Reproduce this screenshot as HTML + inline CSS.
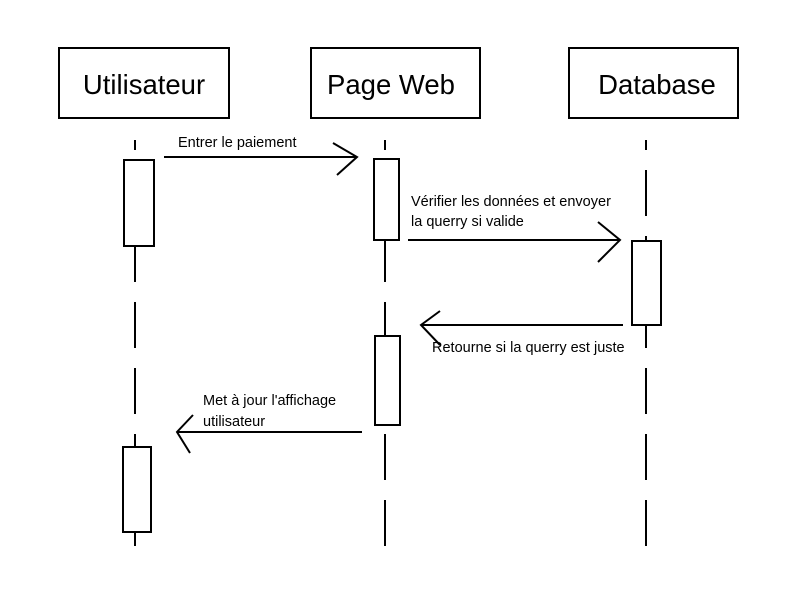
<!DOCTYPE html>
<html><head><meta charset="utf-8"><style>
html,body{margin:0;padding:0;background:#fff;}
svg{display:block;}
text{font-family:"Liberation Sans",sans-serif;fill:#000;}
</style></head><body>
<svg width="800" height="600" viewBox="0 0 800 600" xmlns="http://www.w3.org/2000/svg">
<rect width="800" height="600" fill="#fff"/>
<g stroke="#000" stroke-width="2" fill="#fff">
<rect x="59" y="48" width="170" height="70"/>
<rect x="311" y="48" width="169" height="70"/>
<rect x="569" y="48" width="169" height="70"/>
</g>
<g font-size="27.5" text-anchor="middle">
<text x="144" y="94">Utilisateur</text>
<text x="391" y="94">Page Web</text>
<text x="657" y="94">Database</text>
</g>
<g stroke="#000" stroke-width="2" stroke-dasharray="46 20" stroke-dashoffset="36">
<line x1="135" y1="140" x2="135" y2="552"/>
<line x1="385" y1="140" x2="385" y2="552"/>
<line x1="646" y1="140" x2="646" y2="552"/>
</g>
<g stroke="#000" stroke-width="2" fill="#fff">
<rect x="124" y="160" width="30" height="86"/>
<rect x="374" y="159" width="25" height="81"/>
<rect x="632" y="241" width="29" height="84"/>
<rect x="375" y="336" width="25" height="89"/>
<rect x="123" y="447" width="28" height="85"/>
</g>
<g stroke="#000" stroke-width="2" fill="none">
<line x1="164" y1="157" x2="357" y2="157"/>
<polyline points="333,143 357,157 337,175"/>
<line x1="408" y1="240" x2="620" y2="240"/>
<polyline points="598,222 620,240 598,262"/>
<line x1="623" y1="325" x2="421" y2="325"/>
<polyline points="440,311 421,325 440,345"/>
<line x1="362" y1="432" x2="177" y2="432"/>
<polyline points="193,415 177,432 190,453"/>
</g>
<g font-size="14.5">
<text x="178" y="147">Entrer le paiement</text>
<text x="411" y="206">Vérifier les données et envoyer</text>
<text x="411" y="226">la querry si valide</text>
<text x="432" y="352">Retourne si la querry est juste</text>
<text x="203" y="405">Met à jour l'affichage</text>
<text x="203" y="426">utilisateur</text>
</g>
</svg>
</body></html>
